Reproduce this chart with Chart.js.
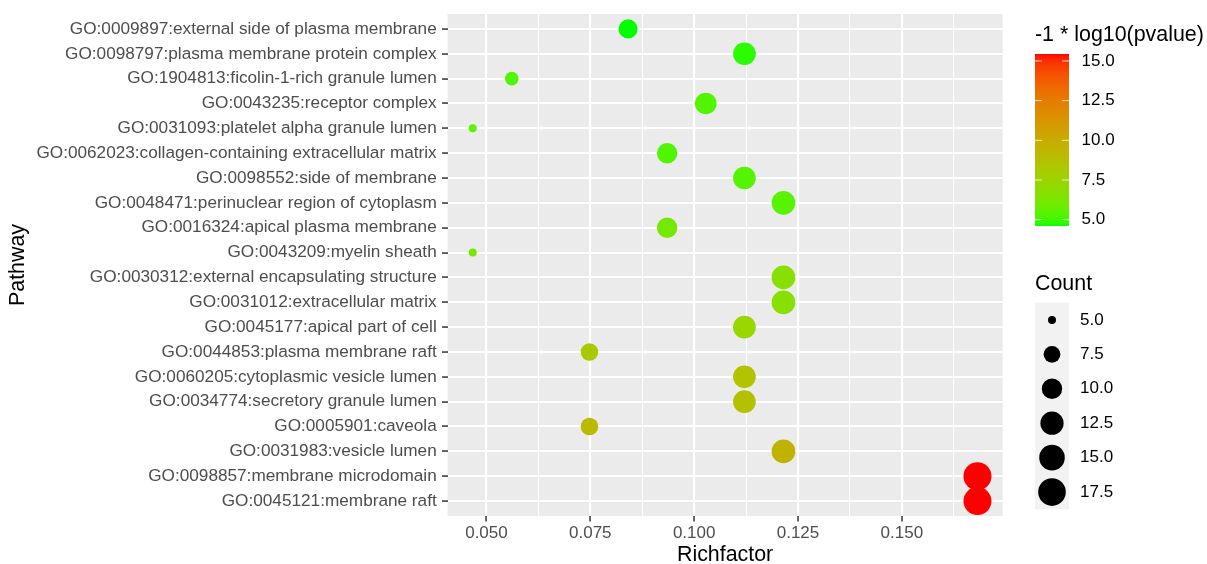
<!DOCTYPE html>
<html>
<head>
<meta charset="utf-8">
<script src="https://cdn.jsdelivr.net/npm/chart.js@4.4.1/dist/chart.umd.min.js"></script>
<style>
html,body{margin:0;padding:0;background:#ffffff;}
canvas{display:block;}
</style>
</head>
<body>
<canvas id="c" width="1207" height="564"></canvas>
<script>
// ---------------- data ----------------
const pathways = [
  "GO:0009897:external side of plasma membrane",
  "GO:0098797:plasma membrane protein complex",
  "GO:1904813:ficolin-1-rich granule lumen",
  "GO:0043235:receptor complex",
  "GO:0031093:platelet alpha granule lumen",
  "GO:0062023:collagen-containing extracellular matrix",
  "GO:0098552:side of membrane",
  "GO:0048471:perinuclear region of cytoplasm",
  "GO:0016324:apical plasma membrane",
  "GO:0043209:myelin sheath",
  "GO:0030312:external encapsulating structure",
  "GO:0031012:extracellular matrix",
  "GO:0045177:apical part of cell",
  "GO:0044853:plasma membrane raft",
  "GO:0060205:cytoplasmic vesicle lumen",
  "GO:0034774:secretory granule lumen",
  "GO:0005901:caveola",
  "GO:0031983:vesicle lumen",
  "GO:0098857:membrane microdomain",
  "GO:0045121:membrane raft"
];
const richFactor = [0.0841, 0.1121, 0.0561, 0.1028, 0.0467, 0.0935, 0.1121, 0.1215, 0.0935, 0.0467,
                    0.1215, 0.1215, 0.1121, 0.0748, 0.1121, 0.1121, 0.0748, 0.1215, 0.1682, 0.1682];
const counts = [9, 12, 6, 11, 5, 10, 12, 13, 10, 5, 13, 13, 12, 8, 12, 12, 8, 13, 18, 18];
const negLogP = [4.6, 4.8, 5.25, 5.3, 5.45, 5.25, 5.35, 5.4, 6.1, 6.1,
                 6.7, 6.7, 7.3, 8.2, 8.6, 8.7, 9.1, 9.6, 15.44, 15.44];
const xMajorTicks = [0.050, 0.075, 0.100, 0.125, 0.150];
const xMinorTicks = [0.0625, 0.0875, 0.1125, 0.1375, 0.1625];
const colorBreaks = [5.0, 7.5, 10.0, 12.5, 15.0];
const sizeBreaks = [5.0, 7.5, 10.0, 12.5, 15.0, 17.5];

// ---------------- styling helpers ----------------
const FONT = '"Liberation Sans", Arial, Helvetica, sans-serif';
Chart.defaults.font.family = FONT;

function sLin(c){c/=255;return c<=0.04045?c/12.92:Math.pow((c+0.055)/1.055,2.4);}
function lin2s(c){c=Math.max(0,Math.min(1,c));return 255*(c<=0.0031308?12.92*c:1.055*Math.pow(c,1/2.4)-0.055);}
const WX=0.95047, WY=1.0, WZ=1.08883;
function fL(t){return t>0.008856?Math.cbrt(t):(7.787*t+16/116);}
function fLi(t){return t>0.206893?t*t*t:(t-16/116)/7.787;}
function rgb2lab(rgb){
  const R=sLin(rgb[0]),G=sLin(rgb[1]),B=sLin(rgb[2]);
  const X=0.4124*R+0.3576*G+0.1805*B, Y=0.2126*R+0.7152*G+0.0722*B, Z=0.0193*R+0.1192*G+0.9505*B;
  const fx=fL(X/WX), fy=fL(Y/WY), fz=fL(Z/WZ);
  return [116*fy-16, 500*(fx-fy), 200*(fy-fz)];
}
function lab2rgb(lab){
  const fy=(lab[0]+16)/116, fx=fy+lab[1]/500, fz=fy-lab[2]/200;
  const X=WX*fLi(fx), Y=WY*fLi(fy), Z=WZ*fLi(fz);
  const R=3.2406*X-1.5372*Y-0.4986*Z, G=-0.9689*X+1.8758*Y+0.0415*Z, B=0.0557*X-0.2040*Y+1.0570*Z;
  return [lin2s(R),lin2s(G),lin2s(B)];
}
const LOW = rgb2lab([0,255,0]), HIGH = rgb2lab([255,0,0]);
const pMin = Math.min(...negLogP), pMax = Math.max(...negLogP);
function colorFor(v){
  let t=(v-pMin)/(pMax-pMin); t=Math.max(0,Math.min(1,t));
  const lab=[0,1,2].map(k=>LOW[k]+(HIGH[k]-LOW[k])*t);
  const c=lab2rgb(lab).map(x=>Math.round(x));
  return `rgb(${c[0]},${c[1]},${c[2]})`;
}
const cMin = Math.min(...counts);
function diamFor(c){ return 8 + 5.55*Math.sqrt(Math.max(0,c-cMin)); }

const xMinD = Math.min(...richFactor), xMaxD = Math.max(...richFactor);
const xLo = xMinD - 0.05*(xMaxD-xMinD), xHi = xMaxD + 0.05*(xMaxD-xMinD);
const isMajor = v => xMajorTicks.some(m => Math.abs(m-v) < 1e-9);

const panelBg = {
  id:'panelBg',
  beforeDraw(chart){
    const {ctx, chartArea:a} = chart;
    ctx.save(); ctx.fillStyle='#EBEBEB';
    ctx.fillRect(a.left, a.top, a.right-a.left, a.bottom-a.top);
    ctx.restore();
  }
};

const legends = {
  id:'legends',
  afterDraw(chart){
    const ctx = chart.ctx;
    ctx.save();
    // color bar legend
    ctx.fillStyle='#000'; ctx.textAlign='left'; ctx.textBaseline='alphabetic';
    ctx.font = `21.4px ${FONT}`;
    ctx.fillText('-1 * log10(pvalue)', 1035, 40.5);
    const bx=1035, bw=34, by=54, bh=172;
    for(let i=0;i<bh;i++){
      const v = pMax - (i+0.5)/bh*(pMax-pMin);
      ctx.fillStyle = colorFor(v);
      ctx.fillRect(bx, by+i, bw, 1);
    }
    ctx.font = `17px ${FONT}`; ctx.textBaseline='middle';
    colorBreaks.forEach(v=>{
      const y = by + (pMax - v)/(pMax-pMin)*bh;
      ctx.strokeStyle='rgba(255,255,255,0.75)'; ctx.lineWidth=1;
      ctx.beginPath();
      ctx.moveTo(bx, y); ctx.lineTo(bx+7, y);
      ctx.moveTo(bx+bw-7, y); ctx.lineTo(bx+bw, y);
      ctx.stroke();
      ctx.fillStyle='#000';
      ctx.fillText(v.toFixed(1), 1081.5, y);
    });
    // size legend
    ctx.font = `21.4px ${FONT}`; ctx.textBaseline='alphabetic';
    ctx.fillText('Count', 1035, 289.5);
    const kTop=302.7, kH=206.6, kx=1035, kw=34;
    ctx.fillStyle='#F2F2F2'; ctx.fillRect(kx, kTop, kw, kH);
    const step = kH / sizeBreaks.length;
    ctx.font = `17px ${FONT}`; ctx.textBaseline='middle';
    sizeBreaks.forEach((v,i)=>{
      const cy = kTop + step*(i+0.5);
      ctx.fillStyle='#000';
      ctx.beginPath(); ctx.arc(kx+kw/2, cy, diamFor(v)/2, 0, Math.PI*2); ctx.fill();
      ctx.fillText(v.toFixed(1), 1080, cy);
    });
    ctx.restore();
  }
};

new Chart(document.getElementById('c'), {
  type:'bubble',
  data:{
    datasets:[{
      data: pathways.map((p,i)=>({x: richFactor[i], y: i, r: diamFor(counts[i])/2})),
      backgroundColor: negLogP.map(colorFor),
      borderWidth: 0,
      hoverRadius: 0
    }]
  },
  options:{
    responsive:false,
    animation:false,
    events:[],
    devicePixelRatio:1,
    layout:{padding:{top:14, right:204.3, left:0, bottom:0}},
    plugins:{legend:{display:false}, tooltip:{enabled:false}},
    scales:{
      x:{
        type:'linear', min:xLo, max:xHi,
        afterBuildTicks: s => { s.ticks = [...xMajorTicks, ...xMinorTicks].sort((a,b)=>a-b).map(v=>({value:v})); },
        afterFit: s => { s.height = 48; s.paddingLeft=0; s.paddingRight=0; s.paddingTop=0; s.paddingBottom=0; },
        border:{display:false},
        grid:{
          color:'#FFFFFF',
          lineWidth: c => (c.tick && isMajor(c.tick.value)) ? 2.1 : 1.1,
          tickLength:5.5,
          tickColor: c => (c.tick && isMajor(c.tick.value)) ? '#333333' : 'rgba(0,0,0,0)',
          tickWidth:1.5
        },
        ticks:{
          autoSkip:false, maxRotation:0, minRotation:0, padding:1.5,
          color:'#4D4D4D', font:{size:17, lineHeight:1.2},
          callback: v => isMajor(v) ? v.toFixed(3) : ''
        },
        title:{display:true, text:'Richfactor', color:'#000000',
               font:{size:21.4, lineHeight:0.8}, padding:{top:0, bottom:0}}
      },
      y:{
        type:'linear', min:-0.6, max:pathways.length-0.4, reverse:true,
        afterBuildTicks: s => { s.ticks = pathways.map((_,i)=>({value:i})); },
        afterFit: s => { s.width = 447.5; s.paddingLeft=0; s.paddingRight=0; s.paddingTop=0; s.paddingBottom=0; },
        border:{display:false},
        grid:{color:'#FFFFFF', lineWidth:2.1, tickLength:5.5, tickColor:'#333333', tickWidth:1.5},
        ticks:{
          autoSkip:false, padding:5.3,
          color:'#4D4D4D', font:{size:17.2, lineHeight:1},
          callback: v => pathways[Math.round(v)]
        },
        title:{display:true, text:'Pathway', color:'#000000',
               font:{size:21.4, lineHeight:0.8}, padding:{top:9.3, bottom:0}}
      }
    }
  },
  plugins:[panelBg, legends]
});
</script>
</body>
</html>
